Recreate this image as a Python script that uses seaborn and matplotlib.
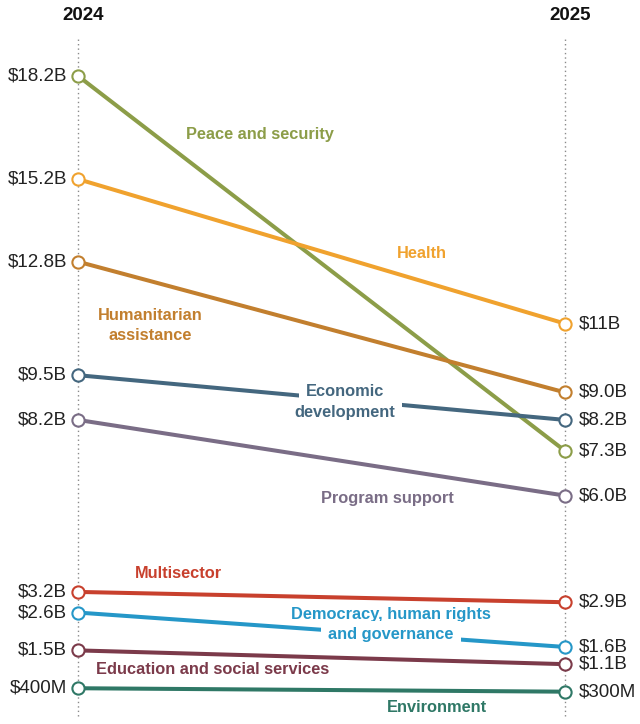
import matplotlib
matplotlib.use("Agg")
import matplotlib.pyplot as plt
import pandas as pd
import seaborn as sns

# data (billions of dollars)
years = ["2024", "2025"]
categories = ["Peace and security", "Health", "Humanitarian assistance",
              "Economic development", "Program support", "Multisector",
              "Democracy, human rights and governance",
              "Education and social services", "Environment"]
values_2024 = [18.2, 15.2, 12.8, 9.5, 8.2, 3.2, 2.6, 1.5, 0.4]
values_2025 = [7.3, 11.0, 9.0, 8.2, 6.0, 2.9, 1.6, 1.1, 0.3]
labels_2024 = ["$18.2B", "$15.2B", "$12.8B", "$9.5B", "$8.2B", "$3.2B", "$2.6B", "$1.5B", "$400M"]
labels_2025 = ["$7.3B", "$11B", "$9.0B", "$8.2B", "$6.0B", "$2.9B", "$1.6B", "$1.1B", "$300M"]
colors = ["#8C9D48", "#F0A22E", "#C27F2E", "#44677F", "#7A6D86",
          "#C8402D", "#2597C8", "#7B3A4A", "#2F7866"]

df = pd.DataFrame({
    "category": categories * 2,
    "year": [0] * len(categories) + [1] * len(categories),
    "value": values_2024 + values_2025,
})

sns.set_style("white")
plt.rcParams["text.parse_math"] = False
plt.rcParams["font.family"] = ["Liberation Sans", "DejaVu Sans"]

fig = plt.figure(figsize=(6.4, 7.24), dpi=100)
ax = fig.add_axes([0, 0, 1, 1])

# pixel -> data helper (2024 column at x=78px, 2025 at x=565px)
def px(x, y):
    return (x - 78) / 487, (702 - y) / 34.4

ax.vlines([0, 1], px(0, 716)[1], px(0, 38)[1], colors="#8a8a8a",
          linestyles=(0, (1, 2.2)), lw=1, zorder=0)

sns.lineplot(data=df, x="year", y="value", hue="category",
             palette=dict(zip(categories, colors)), hue_order=categories,
             linewidth=2.9, marker="o", markersize=8.8, errorbar=None,
             legend=False, sort=False, ax=ax)
for line in ax.lines:
    line.set_markerfacecolor("white")
    line.set_markeredgecolor(line.get_color())
    line.set_markeredgewidth(1.5)
    line.set_solid_capstyle("butt")

# value labels on both sides
for v, lab in zip(values_2024, labels_2024):
    ax.annotate(lab, (0, v), xytext=(-11, 0), textcoords="offset pixels",
                ha="right", va="center", fontsize=13.5, color="#222222")
for v, lab in zip(values_2025, labels_2025):
    ax.annotate(lab, (1, v), xytext=(14, 0), textcoords="offset pixels",
                ha="left", va="center", fontsize=13.5, color="#222222")

# column headers (sit a few px right of the dotted guides)
for i, yr in enumerate(years):
    ax.annotate(yr, (i, px(0, 16)[1]), xytext=(5, 0), textcoords="offset pixels",
                ha="center", va="center", fontsize=13.5, fontweight="bold",
                color="#111111")

# category labels: (x px, first-line y px, [(line text, white mask)])
label_pos = {
    "Peace and security": (260, 134, [("Peace and security", False)]),
    "Health": (422, 253, [("Health", False)]),
    "Humanitarian assistance": (150, 315, [("Humanitarian", False), ("assistance", False)]),
    "Economic development": (345, 392, [("Economic", True), ("development", True)]),
    "Program support": (387, 498, [("Program support", False)]),
    "Multisector": (178, 573, [("Multisector", False)]),
    "Democracy, human rights and governance": (391, 615, [("Democracy, human rights", False),
                                                          ("and governance", True)]),
    "Education and social services": (213, 670, [("Education and social services", False)]),
    "Environment": (437, 708, [("Environment", False)]),
}
for cat, col in zip(categories, colors):
    x, y, rows = label_pos[cat]
    for k, (txt, masked) in enumerate(rows):
        bbox = dict(facecolor="white", edgecolor="none", pad=5) if masked else None
        ax.text(*px(x, y + 20 * k), txt, ha="center", va="center", fontsize=11.8,
                fontweight="bold", color=col, bbox=bbox, zorder=5)

ax.set_xlim(-78 / 487, (640 - 78) / 487)
ax.set_ylim(px(0, 724)[1], px(0, 0)[1])
ax.axis("off")

fig.savefig("out.png", dpi=100)
